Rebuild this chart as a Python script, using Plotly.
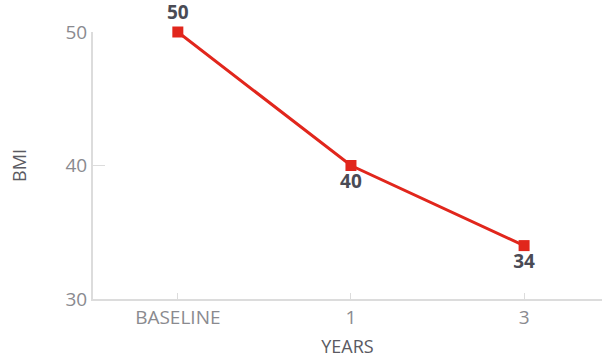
import plotly.graph_objects as go

categories = ["BASELINE", "1", "3"]
bmi = [50, 40, 34]
label_pos = ["top center", "bottom center", "bottom center"]
y_ticks = [30, 40, 50]

fig = go.Figure()
fig.add_trace(go.Scatter(
    x=categories, y=bmi, mode="lines+markers+text",
    text=[str(v) for v in bmi], textposition=label_pos,
    textfont=dict(family="Open Sans", size=19, color="#4a4b55", weight="bold"),
    line=dict(color="#e1261c", width=3),
    marker=dict(symbol="square", size=11, color="#e1261c"),
    cliponaxis=False, showlegend=False,
))
fig.update_layout(
    width=602, height=362,
    margin=dict(l=93, r=0, t=32, b=63),
    paper_bgcolor="white", plot_bgcolor="white",
    font=dict(family="Open Sans", color="#8a8a8f"),
    xaxis=dict(
        type="category", range=[-0.49, 2.45],
        showline=True, linecolor="#dcdcdc", linewidth=2,
        ticks="inside", ticklen=6, tickcolor="#dcdcdc", tickwidth=1,
        showgrid=False, zeroline=False,
        tickfont=dict(size=19, color="#8a8a8f"),
        title=dict(text="YEARS", font=dict(size=18, color="#5a5a62"), standoff=12),
    ),
    yaxis=dict(
        range=[30, 50], tickvals=y_ticks,
        showline=True, linecolor="#dcdcdc", linewidth=2,
        ticks="inside", ticklen=12, tickcolor="#dcdcdc", tickwidth=1,
        showgrid=False, zeroline=False,
        tickfont=dict(size=19, color="#8a8a8f"),
        title=dict(text="BMI", font=dict(size=18, color="#5a5a62"), standoff=34),
    ),
)
fig.write_html("out.html")
